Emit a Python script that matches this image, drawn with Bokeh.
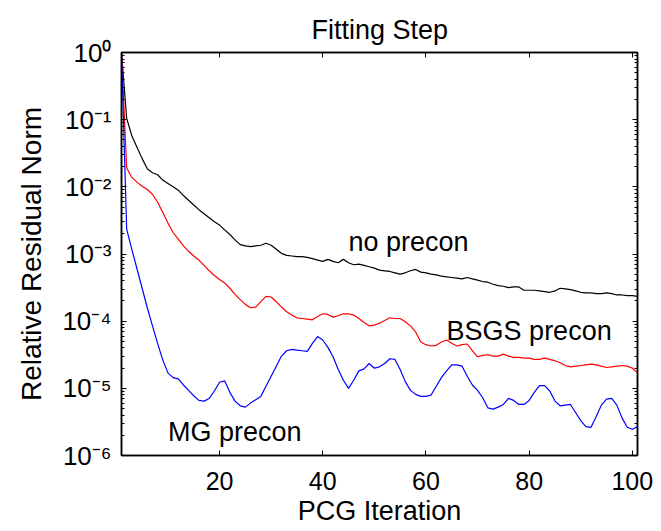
import math
from bokeh.plotting import figure
from bokeh.models import FixedTicker, LogAxis, LinearAxis, Label, CustomJSTickFormatter, Range1d
from bokeh.embed import file_html
from bokeh.resources import INLINE

# ---------------- data ----------------
iterations = list(range(1, 102))

# log10 of the relative residual norm, one value per PCG iteration 1..101
no_precon_log10 = [
    0.00, -0.98, -1.24, -1.41, -1.58, -1.73, -1.79, -1.82, -1.90, -1.95,
    -2.00, -2.05, -2.13, -2.20, -2.27, -2.34, -2.40, -2.46, -2.52, -2.57,
    -2.64, -2.71, -2.79, -2.86, -2.88, -2.89, -2.88, -2.87, -2.84, -2.87,
    -2.93, -2.99, -3.02, -3.03, -3.04, -3.04, -3.05, -3.07, -3.09, -3.11,
    -3.08, -3.11, -3.13, -3.08, -3.13, -3.16, -3.15, -3.17, -3.19, -3.21,
    -3.24, -3.25, -3.26, -3.28, -3.30, -3.28, -3.25, -3.23, -3.27, -3.28,
    -3.30, -3.31, -3.33, -3.34, -3.35, -3.36, -3.37, -3.35, -3.37, -3.39,
    -3.41, -3.42, -3.45, -3.47, -3.48, -3.50, -3.49, -3.49, -3.54, -3.54,
    -3.54, -3.55, -3.56, -3.57, -3.55, -3.51, -3.52, -3.53, -3.55, -3.57,
    -3.58, -3.58, -3.59, -3.59, -3.58, -3.59, -3.61, -3.61, -3.62, -3.62,
    -3.63,
]

bsgs_log10 = [
    0.00, -1.72, -1.86, -1.93, -1.99, -2.04, -2.11, -2.23, -2.38, -2.54,
    -2.68, -2.78, -2.88, -2.96, -3.03, -3.09, -3.17, -3.25, -3.32, -3.38,
    -3.43, -3.51, -3.60, -3.68, -3.75, -3.80, -3.79, -3.71, -3.63, -3.64,
    -3.71, -3.79, -3.86, -3.91, -3.95, -3.96, -3.97, -3.98, -3.93, -3.89,
    -3.90, -3.94, -3.92, -3.89, -3.89, -3.91, -3.96, -4.02, -4.07, -4.06,
    -4.03, -3.99, -3.95, -3.96, -3.96, -4.01, -4.07, -4.16, -4.31, -4.35,
    -4.37, -4.36, -4.31, -4.28, -4.33, -4.37, -4.35, -4.34, -4.44, -4.53,
    -4.51, -4.50, -4.52, -4.52, -4.49, -4.52, -4.54, -4.54, -4.55, -4.55,
    -4.57, -4.57, -4.55, -4.57, -4.59, -4.62, -4.66, -4.68, -4.67, -4.66,
    -4.65, -4.64, -4.65, -4.67, -4.69, -4.68, -4.67, -4.66, -4.67, -4.70,
    -4.77,
]

mg_log10 = [
    0.00, -2.63, -2.93, -3.22, -3.51, -3.80, -4.07, -4.33, -4.58, -4.77,
    -4.84, -4.86, -4.95, -5.03, -5.11, -5.18, -5.19, -5.15, -5.04, -4.91,
    -4.89, -5.06, -5.19, -5.26, -5.28, -5.22, -5.17, -5.12, -4.97, -4.82,
    -4.67, -4.52, -4.44, -4.42, -4.43, -4.44, -4.45, -4.33, -4.23, -4.28,
    -4.39, -4.53, -4.72, -4.88, -5.00, -4.88, -4.74, -4.71, -4.63, -4.70,
    -4.68, -4.63, -4.56, -4.57, -4.72, -4.90, -5.03, -5.09, -5.12, -5.12,
    -5.10, -4.97, -4.84, -4.74, -4.65, -4.65, -4.67, -4.82, -4.95, -5.03,
    -5.14, -5.29, -5.31, -5.28, -5.24, -5.15, -5.18, -5.24, -5.24, -5.18,
    -5.06, -4.96, -4.96, -5.04, -5.19, -5.26, -5.25, -5.24, -5.36, -5.48,
    -5.57, -5.58, -5.42, -5.25, -5.16, -5.15, -5.25, -5.44, -5.58, -5.61,
    -5.57,
]

no_precon = [10 ** v for v in no_precon_log10]
bsgs = [10 ** v for v in bsgs_log10]
mg = [10 ** v for v in mg_log10]

x_ticks = [20, 40, 60, 80, 100]

curve_labels = ["no precon", "BSGS precon", "MG precon"]
curve_label_x = [45, 64, 10]
curve_label_y = [10 ** -2.82, 10 ** -4.15, 10 ** -5.65]

title_text = "Fitting Step"
x_label = "PCG Iteration"
y_label = "Relative Residual Norm"

# ---------------- figure ----------------
FONT = "Liberation Sans"
W, H = 653, 528

p = figure(width=W, height=H,
           x_range=Range1d(1, 101), y_range=Range1d(1e-6, 1),
           y_axis_type="log", output_backend="svg", toolbar_location=None,
           title=title_text,
           min_border_left=121, min_border_right=W - 637,
           min_border_top=52, min_border_bottom=H - 459)
p.background_fill_color = "white"
p.border_fill_color = "white"
p.grid.visible = False
p.outline_line_color = "black"
p.outline_line_width = 1.5

p.title.align = "left"
p.title.offset = 190
p.title.text_font = FONT
p.title.text_font_size = "27px"
p.title.text_font_style = "normal"
p.title.text_color = "black"
p.title.standoff = 15

decades = [10.0 ** e for e in range(-6, 1)]
minors = [m * 10.0 ** e for e in range(-6, 0) for m in range(2, 10)]

sup_formatter = CustomJSTickFormatter(code="""
const sup = {"0":"\u2070","1":"\u00b9","2":"\u00b2","3":"\u00b3","4":"\u2074",
             "5":"\u2075","6":"\u2076","7":"\u2077","8":"\u2078","9":"\u2079","-":"\u207b"};
const e = Math.round(Math.log10(tick));
return "10" + String(e).split("").map(c => sup[c]).join("");
""")

# bottom x axis
xa = p.xaxis[0]
xa.ticker = FixedTicker(ticks=x_ticks, minor_ticks=[])
xa.major_label_text_font = FONT
xa.major_label_text_font_size = "25px"
xa.major_label_text_color = "black"
xa.major_label_standoff = 16
xa.major_tick_in = 5
xa.major_tick_out = 0
xa.minor_tick_in = 0
xa.minor_tick_out = 0
xa.axis_line_width = 1.5
xa.axis_label = x_label
xa.axis_label_text_font = FONT
xa.axis_label_text_font_size = "27px"
xa.axis_label_text_font_style = "normal"
xa.axis_label_text_color = "black"
xa.axis_label_standoff = 3

# left y axis
ya = p.yaxis[0]
ya.ticker = FixedTicker(ticks=decades, minor_ticks=minors)
ya.formatter = sup_formatter
ya.major_label_text_font = FONT
ya.major_label_text_font_size = "26px"
ya.major_label_text_color = "black"
ya.major_label_standoff = 10
ya.major_tick_in = 5
ya.major_tick_out = 0
ya.minor_tick_in = 3
ya.minor_tick_out = 0
ya.axis_line_width = 1.5
ya.axis_label = y_label
ya.axis_label_text_font = FONT
ya.axis_label_text_font_size = "28px"
ya.axis_label_text_font_style = "normal"
ya.axis_label_text_color = "black"
ya.axis_label_standoff = 12

# top axis
ta = LinearAxis(ticker=FixedTicker(ticks=x_ticks, minor_ticks=[]),
                formatter=CustomJSTickFormatter(code="return ''"),
                major_label_text_font_size="0px", major_label_standoff=0,
                major_tick_in=5, major_tick_out=0, minor_tick_in=0, minor_tick_out=0,
                axis_line_width=1.5)
p.add_layout(ta, "above")

# right axis
ra = LogAxis(ticker=FixedTicker(ticks=decades, minor_ticks=minors),
             formatter=CustomJSTickFormatter(code="return ''"),
             major_label_text_font_size="0px", major_label_standoff=0,
             major_tick_in=5, major_tick_out=0, minor_tick_in=3, minor_tick_out=0,
             axis_line_width=1.5)
p.add_layout(ra, "right")

# curves
p.line(iterations, no_precon, line_color="black", line_width=1.2)
p.line(iterations, bsgs, line_color="#ff0000", line_width=1.2)
p.line(iterations, mg, line_color="#0000ff", line_width=1.2)

# curve annotations
for t, lx, ly in zip(curve_labels, curve_label_x, curve_label_y):
    p.add_layout(Label(x=lx, y=ly, text=t, text_align="left", text_baseline="alphabetic",
                       text_font=FONT, text_font_size="27px", text_color="black"))

open("out.html", "w").write(file_html(p, INLINE))
